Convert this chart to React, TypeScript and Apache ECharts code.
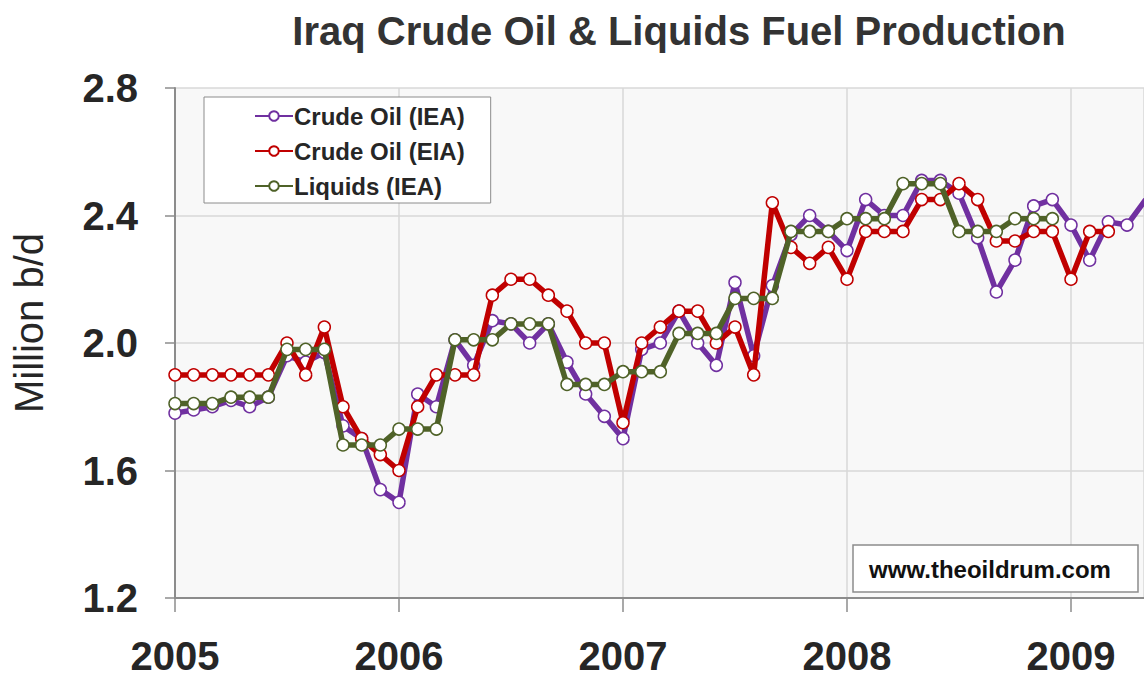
import React, { useEffect, useRef } from "react";
import * as echarts from "echarts";

// ---- Data (monthly, starting January 2005) ----
const startYear = 2005;
const yearTicks = ["2005", "2006", "2007", "2008", "2009"];
const yTicks = [1.2, 1.6, 2.0, 2.4, 2.8];

const crudeOilIEA = [
  1.78, 1.79, 1.8, 1.82, 1.8, 1.83, 1.96, 1.94, 1.97, 1.74, 1.7, 1.54,
  1.5, 1.84, 1.8, 2.01, 1.93, 2.07, 2.06, 2.0, 2.06, 1.94, 1.84, 1.77,
  1.7, 1.98, 2.0, 2.1, 2.0, 1.93, 2.19, 1.96, 2.18, 2.34, 2.4, 2.35,
  2.29, 2.45, 2.4, 2.4, 2.51, 2.51, 2.47, 2.33, 2.16, 2.26, 2.43, 2.45,
  2.37, 2.26, 2.38, 2.37, 2.45,
];
const crudeOilEIA = [
  1.9, 1.9, 1.9, 1.9, 1.9, 1.9, 2.0, 1.9, 2.05, 1.8, 1.7, 1.65,
  1.6, 1.8, 1.9, 1.9, 1.9, 2.15, 2.2, 2.2, 2.15, 2.1, 2.0, 2.0,
  1.75, 2.0, 2.05, 2.1, 2.1, 2.0, 2.05, 1.9, 2.44, 2.3, 2.25, 2.3,
  2.2, 2.35, 2.35, 2.35, 2.45, 2.45, 2.5, 2.45, 2.32, 2.32, 2.35, 2.35,
  2.2, 2.35, 2.35,
];
const liquidsIEA = [
  1.81, 1.81, 1.81, 1.83, 1.83, 1.83, 1.98, 1.98, 1.98, 1.68, 1.68, 1.68,
  1.73, 1.73, 1.73, 2.01, 2.01, 2.01, 2.06, 2.06, 2.06, 1.87, 1.87, 1.87,
  1.91, 1.91, 1.91, 2.03, 2.03, 2.03, 2.14, 2.14, 2.14, 2.35, 2.35, 2.35,
  2.39, 2.39, 2.39, 2.5, 2.5, 2.5, 2.35, 2.35, 2.35, 2.39, 2.39, 2.39,
];

const seriesNames = ["Crude Oil (IEA)", "Crude Oil (EIA)", "Liquids (IEA)"];
const seriesColors = ["#7030a0", "#c00000", "#4f6228"];

const FONT = "'Liberation Sans', Arial, sans-serif";

function toMonthly(values: number[]) {
  return values.map((v, i) => [startYear + i / 12, v]);
}

export default function App() {
  const ref = useRef<HTMLDivElement>(null);

  useEffect(() => {
    if (!ref.current) return;
    const chart = echarts.init(ref.current, undefined, { renderer: "svg" });
    const allSeries = [crudeOilIEA, crudeOilEIA, liquidsIEA];
    const xMin = Number(yearTicks[0]);
    const xMax = xMin + 969 / 224;

    chart.setOption({
      animation: false,
      backgroundColor: "#ffffff",
      textStyle: { fontFamily: FONT },
      grid: {
        left: 175,
        right: 0,
        top: 88,
        bottom: 79,
        show: true,
        backgroundColor: "#f8f8f8",
        borderWidth: 0,
      },
      legend: {
        left: 204,
        top: 97,
        orient: "vertical",
        data: seriesNames,
        itemWidth: 38,
        itemHeight: 12,
        itemGap: 11,
        padding: [7, 26, 5, 50],
        backgroundColor: "#ffffff",
        borderColor: "#8c8c8c",
        borderWidth: 1,
        textStyle: {
          fontFamily: FONT,
          fontSize: 24,
          fontWeight: "bold",
          color: "#262626",
          padding: [0, 0, 0, -4],
        },
      },
      xAxis: {
        type: "value",
        min: xMin,
        max: xMax,
        interval: 1,
        axisLine: { show: true, lineStyle: { color: "#8c8c8c", width: 2 } },
        axisTick: { show: true, length: 14, lineStyle: { color: "#8c8c8c", width: 1.5 } },
        splitLine: { show: true, lineStyle: { color: "#d9d9d9", width: 1.5 } },
        axisLabel: {
          margin: 42,
          fontFamily: FONT,
          fontSize: 40,
          lineHeight: 32,
          fontWeight: "bold",
          color: "#262626",
          showMaxLabel: false,
          formatter: (v: number) => {
            const idx = yearTicks.indexOf(String(Math.round(v)));
            return Math.abs(v - Math.round(v)) < 1e-6 && idx >= 0 ? yearTicks[idx] : "";
          },
        },
      },
      yAxis: {
        type: "value",
        min: yTicks[0],
        max: yTicks[yTicks.length - 1],
        interval: 0.4,
        axisLine: { show: true, lineStyle: { color: "#8c8c8c", width: 2 } },
        axisTick: { show: true, length: 10, lineStyle: { color: "#8c8c8c", width: 1.5 } },
        splitLine: { show: true, lineStyle: { color: "#d9d9d9", width: 1.5 } },
        axisLabel: {
          margin: 37,
          fontFamily: FONT,
          fontSize: 40,
          fontWeight: "bold",
          color: "#262626",
          formatter: (v: number) => v.toFixed(1),
        },
      },
      series: allSeries.map((vals, i) => ({
        name: seriesNames[i],
        type: "line",
        data: toMonthly(vals),
        color: seriesColors[i],
        symbol: "circle",
        symbolSize: 12,
        showSymbol: true,
        clip: true,
        z: 2 + i,
        lineStyle: { color: seriesColors[i], width: 5.5 },
        itemStyle: { color: "#ffffff", borderColor: seriesColors[i], borderWidth: 1.5 },
      })),
      graphic: [
        {
          type: "text",
          x: 679,
          y: 31,
          style: {
            text: "Iraq Crude Oil & Liquids Fuel Production",
            fontFamily: FONT,
            fontSize: 40,
            fontWeight: "bold",
            fill: "#333333",
            align: "center",
            verticalAlign: "middle",
          },
        },
        {
          type: "text",
          x: 29,
          y: 323,
          rotation: Math.PI / 2,
          style: {
            text: "Million b/d",
            fontFamily: FONT,
            fontSize: 40,
            fontWeight: "normal",
            fill: "#262626",
            align: "center",
            verticalAlign: "middle",
          },
        },
        {
          type: "rect",
          shape: { x: 853, y: 545, width: 285, height: 47 },
          style: { fill: "#ffffff", stroke: "#8c8c8c", lineWidth: 1.5 },
          z: 100,
        },
        {
          type: "text",
          x: 990,
          y: 569,
          z: 101,
          style: {
            text: "www.theoildrum.com",
            fontFamily: FONT,
            fontSize: 24,
            fontWeight: "bold",
            fill: "#111111",
            align: "center",
            verticalAlign: "middle",
          },
        },
      ],
    });

    return () => chart.dispose();
  }, []);

  return (
    <div
      ref={ref}
      style={{ position: "fixed", left: 0, top: 0, width: 1144, height: 677 }}
    />
  );
}
